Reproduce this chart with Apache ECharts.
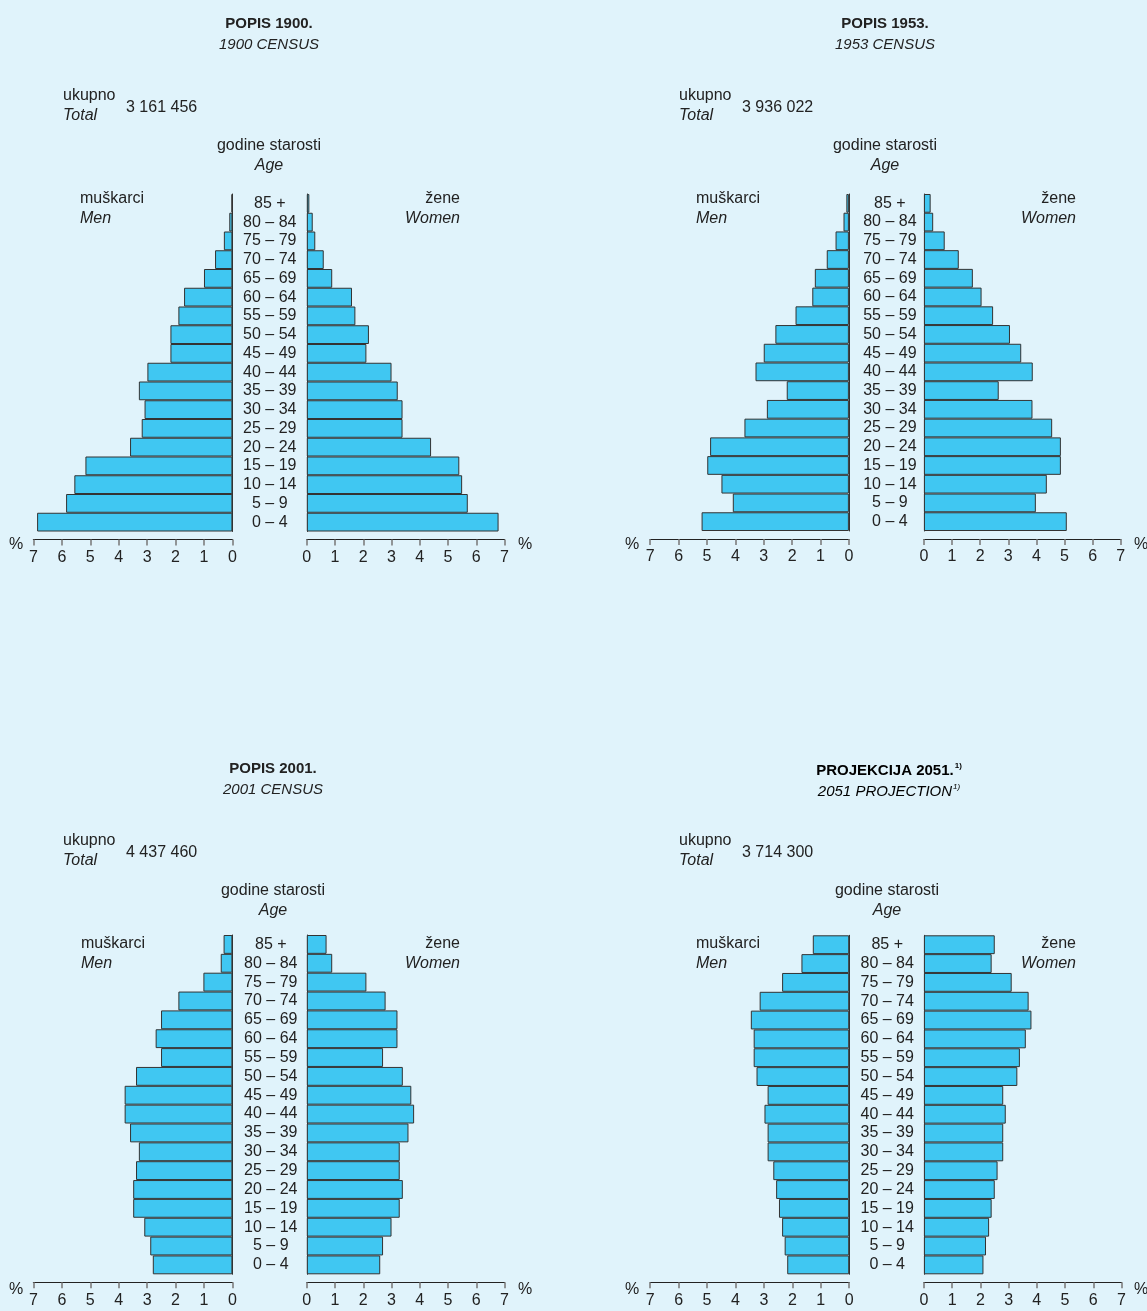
<!DOCTYPE html>
<html><head><meta charset="utf-8">
<script src="https://cdn.jsdelivr.net/npm/echarts@6/dist/echarts.min.js"></script>
<style>html,body{margin:0;padding:0;background:#E0F3FB;}#c{width:1147px;height:1311px;}</style>
</head><body><div id="c"></div>
<script>
const ages = ['0 – 4','5 – 9','10 – 14','15 – 19','20 – 24','25 – 29','30 – 34','35 – 39','40 – 44','45 – 49','50 – 54','55 – 59','60 – 64','65 – 69','70 – 74','75 – 79','80 – 84','85 +'];
const ticks = [0,1,2,3,4,5,6,7];
const men1900 = [6.87,5.85,5.56,5.17,3.60,3.19,3.09,3.29,2.99,2.18,2.18,1.90,1.70,1.00,0.61,0.30,0.11,0.03];
const women1900 = [6.79,5.70,5.50,5.40,4.40,3.39,3.39,3.22,3.00,2.11,2.20,1.72,1.60,0.90,0.60,0.30,0.21,0.09];
const men1953 = [5.19,4.09,4.49,4.99,4.89,3.68,2.89,2.19,3.29,3.00,2.59,1.88,1.29,1.20,0.78,0.47,0.19,0.09];
const women1953 = [5.08,3.98,4.37,4.87,4.87,4.56,3.86,2.66,3.87,3.46,3.06,2.46,2.05,1.74,1.24,0.74,0.33,0.24];
const men2001 = [2.80,2.89,3.10,3.49,3.49,3.39,3.29,3.60,3.79,3.79,3.39,2.51,2.70,2.51,1.90,1.02,0.41,0.31];
const women2001 = [2.60,2.70,3.00,3.29,3.40,3.29,3.29,3.60,3.80,3.70,3.40,2.70,3.21,3.21,2.79,2.11,0.90,0.70];
const men2051 = [2.18,2.27,2.36,2.47,2.57,2.67,2.87,2.87,2.98,2.87,3.26,3.36,3.36,3.46,3.15,2.36,1.68,1.28];
const women2051 = [2.11,2.20,2.31,2.40,2.51,2.61,2.81,2.81,2.90,2.81,3.31,3.40,3.61,3.81,3.71,3.11,2.40,2.51];
const titles = ['POPIS 1900.','POPIS 1953.','POPIS 2001.','PROJEKCIJA 2051.'];
const subtitles = ['1900 CENSUS','1953 CENSUS','2001 CENSUS','2051 PROJECTION'];
const totals = ['3 161 456','3 936 022','4 437 460','3 714 300'];

const panels = [
  {men: men1900, women: women1900, mx: 33.4, mw: 199, wx: 306.8, ww: 197.7, top: 194, h: 337.5, lm: 37, dy: 0, cx: 269, tx: 0},
  {men: men1953, women: women1953, mx: 650.2, mw: 198.7, wx: 923.9, ww: 196.9, top: 194, h: 337, lm: 34, dy: 0, cx: 885, tx: 616},
  {men: men2001, women: women2001, mx: 33.4, mw: 199, wx: 306.8, ww: 197.7, top: 935, h: 339.3, lm: 36, dy: 745, cx: 273, tx: 0},
  {men: men2051, women: women2051, mx: 650.2, mw: 199, wx: 923.9, ww: 197.6, top: 935.3, h: 339, lm: 36.7, dy: 745, cx: 887, tx: 616}
];
const FONT = 'Liberation Sans, Arial, sans-serif';
const TXT = '#222';
const grid = [], xAxis = [], yAxis = [], series = [], graphic = [];
panels.forEach((p, i) => {
  [[p.mx, p.mw, true, p.men], [p.wx, p.ww, false, p.women]].forEach(([x, w, isMen, vals]) => {
    const gi = grid.length;
    grid.push({left: x, top: p.top, width: w, height: p.h});
    xAxis.push({gridIndex: gi, type: 'value', min: 0, max: 7, interval: 1, inverse: isMen, offset: 8,
      axisLine: {show: true, lineStyle: {color: '#222', width: 1.2}},
      axisTick: {show: true, length: 6, lineStyle: {color: '#777', width: 1.5}},
      axisLabel: {color: TXT, fontSize: 16, fontFamily: FONT, margin: 10, formatter: v => ticks.includes(v) ? String(v) : ''},
      splitLine: {show: false}});
    yAxis.push({gridIndex: gi, type: 'category', data: ages, position: isMen ? 'right' : 'left',
      axisLine: {show: true, lineStyle: {color: '#333', width: 1}},
      axisTick: {show: false},
      axisLabel: isMen ? {show: false} : {show: true, interval: 0, align: 'center', margin: p.lm, color: TXT, fontSize: 16, fontFamily: FONT, padding: [3,0,0,0]}});
    series.push({type: 'bar', xAxisIndex: gi, yAxisIndex: gi, data: vals, barWidth: '100%',
      itemStyle: {color: '#40C7F2', borderColor: '#333', borderWidth: 1}, silent: true});
  });
  const dy = p.dy, tx = p.tx;
  const t = (x, y, text, opt) => graphic.push({type: 'text', x: x, y: y,
    style: Object.assign({text: text, fill: TXT, font: '16px ' + FONT, textVerticalAlign: 'middle', textAlign: 'left'}, opt || {})});
  if (i < 3) {
    t(p.cx, 24 + dy, titles[i], {textAlign: 'center', font: 'bold 15px ' + FONT});
    t(p.cx, 45 + dy, subtitles[i], {textAlign: 'center', font: 'italic 15px ' + FONT});
  } else {
    graphic.push({type: 'text', x: 889, y: 771, style: {text: '{b|' + titles[i] + '}{s|1)}', textAlign: 'center', textVerticalAlign: 'middle',
      rich: {b: {font: 'bold 15px ' + FONT, color: TXT}, s: {font: 'bold 8px ' + FONT, color: TXT, padding: [0,0,10,1]}}}});
    graphic.push({type: 'text', x: 889, y: 792, style: {text: '{b|' + subtitles[i] + '}{s|1)}', textAlign: 'center', textVerticalAlign: 'middle',
      rich: {b: {font: 'italic 15px ' + FONT, color: TXT}, s: {font: 'italic 8px ' + FONT, color: TXT, padding: [0,0,10,1]}}}});
  }
  t(63 + tx, 96 + dy, 'ukupno');
  t(63 + tx, 116 + dy, 'Total', {font: 'italic 16px ' + FONT});
  t(126 + tx, 108 + dy, totals[i]);
  t(p.cx, 146 + dy, 'godine starosti', {textAlign: 'center'});
  t(p.cx, 166 + dy, 'Age', {textAlign: 'center', font: 'italic 16px ' + FONT});
  t(80 + tx + (i === 2 ? 1 : 0), 199 + dy, 'muškarci');
  t(80 + tx + (i === 2 ? 1 : 0), 219 + dy, 'Men', {font: 'italic 16px ' + FONT});
  t(460 + tx, 199 + dy, 'žene', {textAlign: 'right'});
  t(460 + tx, 219 + dy, 'Women', {textAlign: 'right', font: 'italic 16px ' + FONT});
  t(16 + tx, 545 + dy, '%', {textAlign: 'center'});
  t(525 + tx, 545 + dy, '%', {textAlign: 'center'});
});
const chart = echarts.init(document.getElementById('c'), null, {renderer: 'canvas'});
chart.setOption({backgroundColor: '#E0F3FB', animation: false, grid, xAxis, yAxis, series, graphic});
</script></body></html>
